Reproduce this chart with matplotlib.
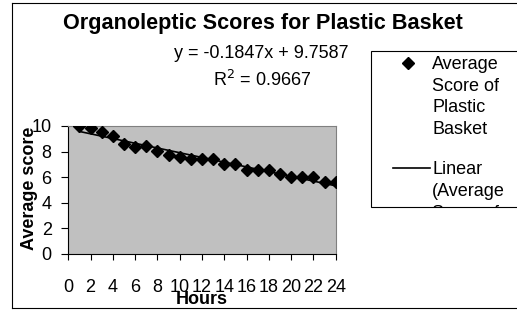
import matplotlib
matplotlib.use("Agg")
import matplotlib.pyplot as plt
from matplotlib.patches import Rectangle
from matplotlib.lines import Line2D
import numpy as np

plt.rcParams['font.family'] = ['Liberation Sans', 'DejaVu Sans']

hours = [1, 2, 3, 4, 5, 6, 7, 8, 9, 10, 11, 12, 13, 14, 15, 16, 17, 18, 19, 20, 21, 22, 23, 24]
scores = [10.0, 9.84, 9.56, 9.24, 8.6, 8.39, 8.44, 8.05, 7.76, 7.6, 7.42, 7.45,
          7.42, 7.03, 7.0, 6.6, 6.6, 6.6, 6.25, 6.04, 6.04, 6.04, 5.65, 5.65]
slope = -0.1847
intercept = 9.7587
r2 = 0.9667
xticks = list(range(0, 25, 2))
yticks = list(range(0, 11, 2))

W, H = 517, 310
fig = plt.figure(figsize=(W / 100, H / 100), dpi=100)

def fx(px):
    return px / W

def fy(py):
    return 1 - py / H

# outer chart border
fig.add_artist(Line2D([fx(12), fx(12)], [fy(3), fy(308)], color='black', lw=0.8, transform=fig.transFigure))
fig.add_artist(Line2D([fx(12), 1.0], [fy(3), fy(3)], color='black', lw=0.8, transform=fig.transFigure))
fig.add_artist(Line2D([fx(12), 1.0], [fy(308), fy(308)], color='black', lw=0.8, transform=fig.transFigure))

ax_l, ax_r, ax_t, ax_b = 68.3, 335.7, 126, 254
ax = fig.add_axes([fx(ax_l), fy(ax_b), fx(ax_r) - fx(ax_l), fy(ax_t) - fy(ax_b)])
ax.set_facecolor('#C0C0C0')
ax.set_xlim(0, 24)
ax.set_ylim(0, 10)

ax.plot(hours, scores, linestyle='none', marker='D', markersize=6, color='black', zorder=3)
xf = np.array([hours[0], hours[-1]], dtype=float)
ax.plot(xf, slope * xf + intercept, color='black', lw=1.2, zorder=2)

ax.set_xticks(xticks)
ax.set_yticks(yticks)
ax.tick_params(axis='x', direction='out', length=4, width=0.8, pad=14, labelsize=13)
ax.tick_params(axis='y', direction='out', length=5, width=0.8, pad=7, labelsize=13)
for s in ['top', 'right']:
    ax.spines[s].set_color('#808080')
    ax.spines[s].set_linewidth(0.8)
for s in ['left', 'bottom']:
    ax.spines[s].set_color('black')
    ax.spines[s].set_linewidth(0.8)

ax.set_xlabel('Hours', fontsize=13, fontweight='bold', va='center')
ax.xaxis.set_label_coords((202 - ax_l) / (ax_r - ax_l), (ax_b - 299) / (ax_b - ax_t))
ax.set_ylabel('Average score', fontsize=13, fontweight='bold', va='center')
ax.yaxis.set_label_coords((30 - ax_l) / (ax_r - ax_l), (ax_b - 188) / (ax_b - ax_t))

fig.text(fx(262.5), fy(23), 'Organoleptic Scores for Plastic Basket', ha='center', va='center',
         fontsize=15.6, fontweight='bold')
fig.text(fx(261), fy(53), f'y = {slope:.4f}x + {intercept:.4f}', ha='center', va='center', fontsize=13)
fig.text(fx(262), fy(80), f'R$^2$ = {r2:.4f}', ha='center', va='center', fontsize=13)

# legend box (clipped at the right edge of the chart)
leg = Rectangle((fx(371), fy(207)), 1.2 - fx(371), fy(51) - fy(207), transform=fig.transFigure,
                facecolor='white', edgecolor='black', lw=0.8)
fig.add_artist(leg)
clipbox = Rectangle((fx(371), fy(207)), 1.2 - fx(371), fy(51) - fy(207), transform=fig.transFigure,
                    facecolor='none', edgecolor='none')
fig.add_artist(clipbox)
fig.add_artist(Line2D([fx(408)], [fy(63)], marker='D', markersize=6, color='black', linestyle='none',
                      transform=fig.transFigure))
fig.add_artist(Line2D([fx(393), fx(430)], [fy(168), fy(168)], color='black', lw=1.2,
                      transform=fig.transFigure))
t1 = fig.text(fx(432), fy(56), 'Average\nScore of\nPlastic\nBasket', ha='left', va='top',
              fontsize=13, linespacing=1.36)
t2 = fig.text(fx(432), fy(161.5), 'Linear\n(Average\nScore of\nPlastic\nBasket)', ha='left', va='top',
              fontsize=13, linespacing=1.36)
for t in (t1, t2):
    t.set_clip_path(clipbox)
    t.set_clip_on(True)

fig.savefig('out.png', dpi=100)
